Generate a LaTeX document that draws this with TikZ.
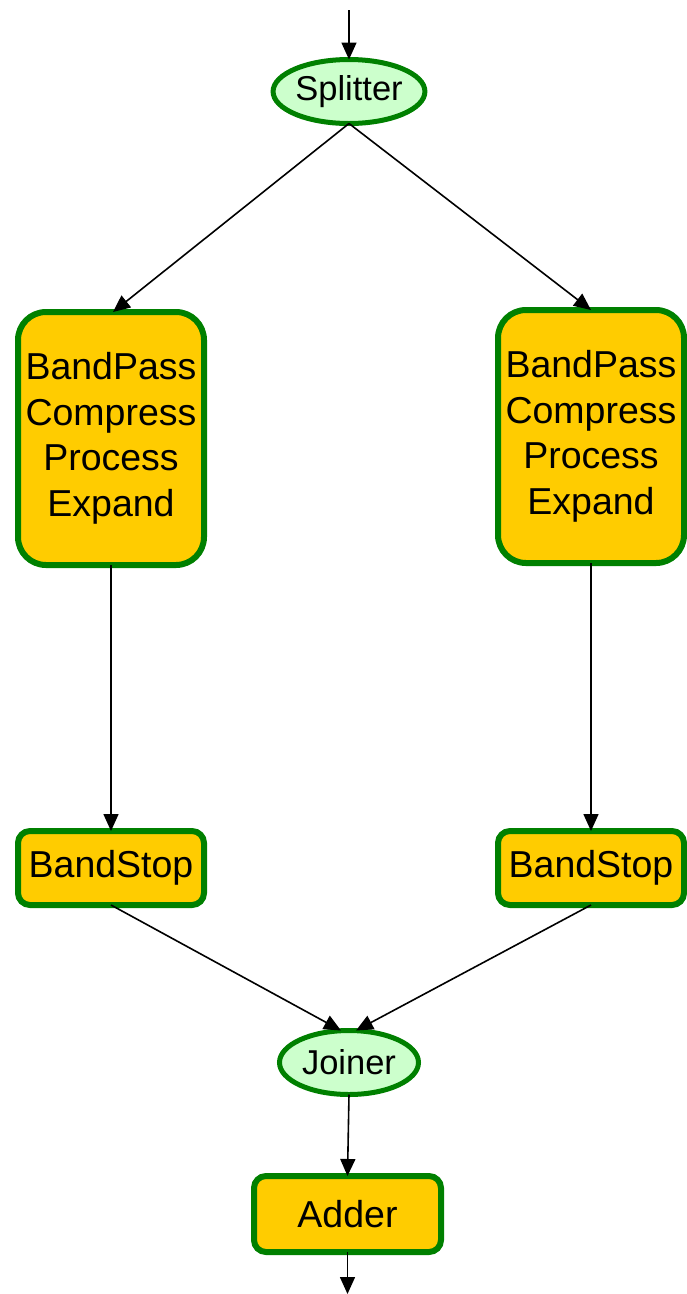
\documentclass[tikz,border=0pt]{standalone}
\usepackage{fontspec}
\setmainfont{Liberation Sans}
\usetikzlibrary{arrows.meta,shapes.geometric}
\definecolor{gborder}{HTML}{008000}
\definecolor{gold}{HTML}{FFCC00}
\definecolor{lgreen}{HTML}{CCFFCC}
\tikzset{
  filt/.style={draw=gborder, fill=gold, line width=6pt, rectangle, rounded corners=12pt,
    inner sep=0pt, outer sep=0pt, align=center, font=\fontsize{37.5}{45.5}\selectfont},
  bigfilt/.style={filt, rounded corners=28pt, minimum width=186pt, minimum height=253pt},
  smallfilt/.style={filt, minimum width=186pt, minimum height=74pt},
  sj/.style={draw=gborder, fill=lgreen, line width=5pt, ellipse, inner sep=0pt, outer sep=0pt,
    minimum width=139pt, minimum height=64pt, font=\fontsize{34.5}{40}\selectfont},
  conn/.style={line width=1.6pt, -{Triangle[length=17pt,width=15pt]}}
}
\begin{document}
\begin{tikzpicture}[x=1pt,y=-1pt]
\useasboundingbox (0,0) rectangle (686,1294);
\node[sj] (spl) at (349,91.5) {Splitter};
\node[bigfilt] (bp1) at (111,438.5) {BandPass\\Compress\\Process\\Expand};
\node[bigfilt] (bp2) at (591,436.5) {BandPass\\Compress\\Process\\Expand};
\node[smallfilt] (bs1) at (111,868) {BandStop};
\node[smallfilt] (bs2) at (591,868) {BandStop};
\node[sj] (jn) at (349,1062.5) {Joiner};
\node[filt, minimum width=187pt, minimum height=76pt] (add) at (347.5,1214) {Adder};
\coordinate (in) at (349,10);
\coordinate (out) at (347.5,1294);
\draw[conn] (in) -- (spl.north);
\draw[conn] (spl.south) -- ([xshift=2pt]bp1.north);
\draw[conn] (spl.south) -- (bp2.north);
\draw[conn] (bp1.south) -- (bs1.north);
\draw[conn] (bp2.south) -- (bs2.north);
\draw[conn] (bs1.south) -- ([xshift=-8pt]jn.north);
\draw[conn] (bs2.south) -- ([xshift=7pt]jn.north);
\draw[conn] (jn.south) -- (add.north);
\draw[conn] (add.south) -- (out);
\end{tikzpicture}
\end{document}
